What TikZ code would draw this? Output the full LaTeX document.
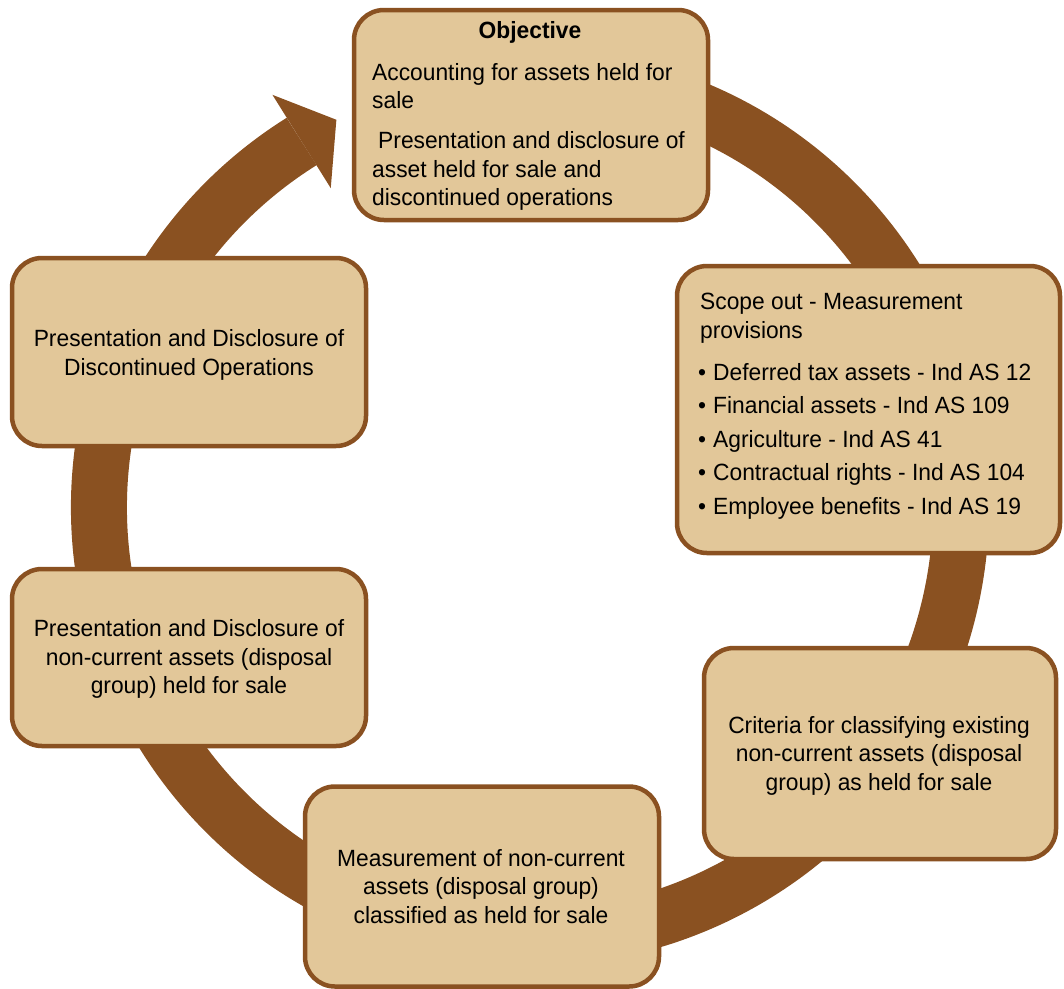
\documentclass[tikz,border=0pt]{standalone}
\usepackage{fontspec}
\setmainfont[FakeStretch=0.97]{Liberation Sans}
\usetikzlibrary{calc}
\definecolor{ringc}{HTML}{8A5121}
\definecolor{boxfill}{HTML}{E2C799}
\begin{document}
\begin{tikzpicture}[x=1pt,y=-1pt,
  box/.style={draw=ringc, fill=boxfill, line width=4.5pt, rounded corners=30pt, inner sep=0pt},
  txt/.style={text=black, inner sep=0pt, font=\fontsize{23.5}{28.5}\selectfont},
  ringline/.style={draw=ringc, line width=56pt},
]
\useasboundingbox (0,0) rectangle (1064,988);
\coordinate (c) at (530,507);
% ring
\draw[ringline] ($(c)+(280:431)$) arc[start angle=280, end angle=598, radius=431];
\coordinate (hb) at ($(c)+(238:431)$);
\coordinate (ho) at ($(c)+(238:486)$);
\coordinate (hi) at ($(c)+(238:376)$);
\coordinate (ht) at ($(hb)+(328:41)$);
\fill[ringc] (ho) -- (ht) -- (hi) -- cycle;
% boxes
\node[box, minimum width=354pt, minimum height=210pt] (top) at (531,115) {};
\node[box, minimum width=383pt, minimum height=287pt] (scope) at (868.5,409.5) {};
\node[box, minimum width=354pt, minimum height=188pt] (lu) at (189,352) {};
\node[box, minimum width=354pt, minimum height=177pt] (ll) at (189,657.5) {};
\node[box, minimum width=354pt, minimum height=200pt] (bm) at (482,886.5) {};
\node[box, minimum width=352pt, minimum height=211pt] (rl) at (880,753.5) {};
% texts
\node[txt, font=\fontsize{23.5}{28.5}\selectfont\bfseries] (objt) at (530,32) {Objective};
\node[txt, align=left, anchor=north west] (objb) at (372,63)
  {Accounting for assets held for\\ sale\\[11.5pt] \hspace*{6pt}Presentation and disclosure of\\ asset held for sale and\\ discontinued operations};
\node[txt, align=left, anchor=north west] (scopeh) at (700,293)
  {Scope out - Measurement\\ provisions};
\node[txt, align=left, anchor=north west, font=\fontsize{23.5}{33.5}\selectfont] (scopel) at (698,363)
  {\makebox[15pt][l]{•}Deferred tax assets - Ind AS 12\\
   \makebox[15pt][l]{•}Financial assets - Ind AS 109\\
   \makebox[15pt][l]{•}Agriculture - Ind AS 41\\
   \makebox[15pt][l]{•}Contractual rights - Ind AS 104\\
   \makebox[15pt][l]{•}Employee benefits - Ind AS 19};
\node[txt, align=center] (lut) at (189,355) {Presentation and Disclosure of\\ Discontinued Operations};
\node[txt, align=center] (llt) at (189,659) {Presentation and Disclosure of\\ non-current assets (disposal\\ group) held for sale};
\node[txt, align=center] (bmt) at (481,886.5) {Measurement of non-current\\ assets (disposal group)\\ classified as held for sale};
\node[txt, align=center] (rlt) at (879,755.5) {Criteria for classifying existing\\ non-current assets (disposal\\ group) as held for sale};
\end{tikzpicture}
\end{document}
